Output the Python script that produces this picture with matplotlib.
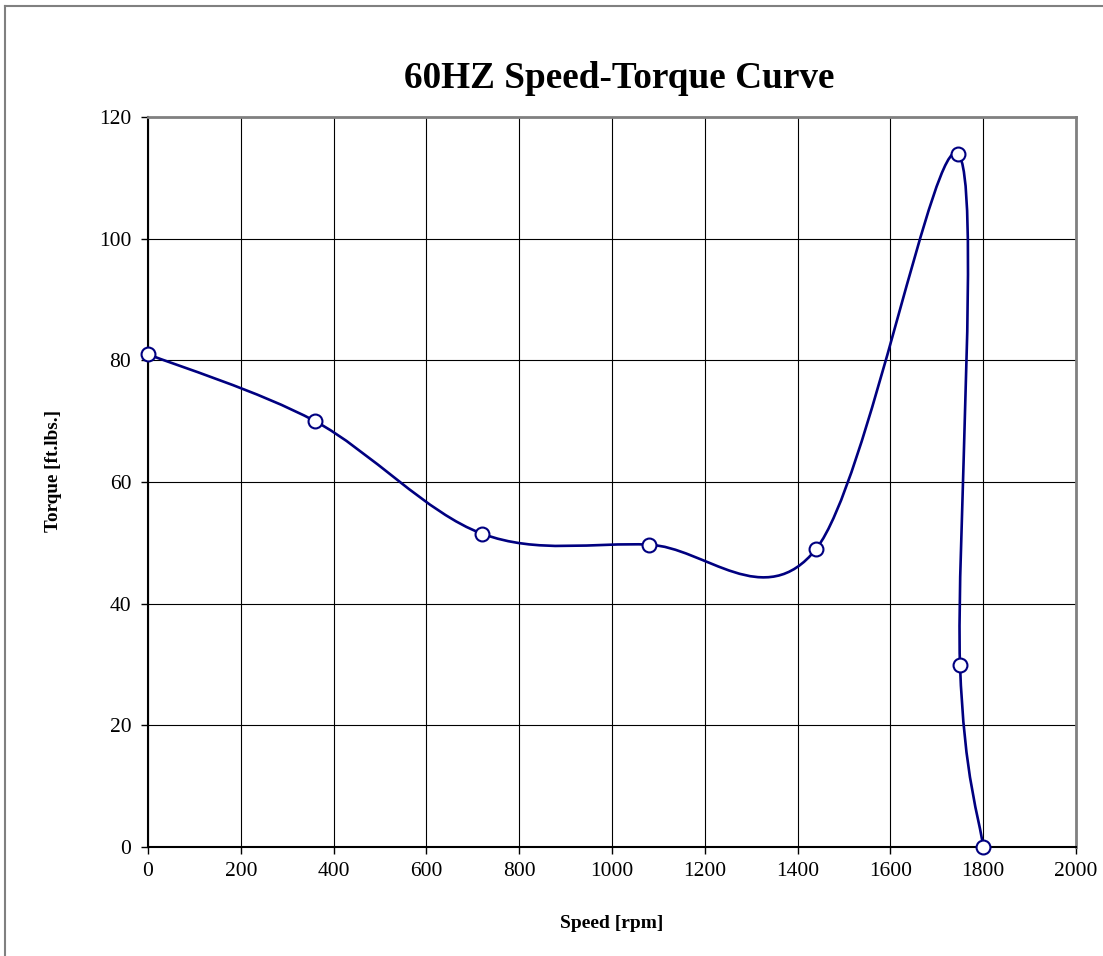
import numpy as np
import matplotlib.pyplot as plt
from matplotlib.path import Path
from matplotlib.patches import PathPatch
from matplotlib.lines import Line2D

# measured points of the 60 Hz speed-torque curve
speed = [0, 360, 720, 1080, 1440, 1745, 1750, 1800]
torque = [81, 70, 51.5, 49.7, 49, 114, 30, 0]

x_ticks = [0, 200, 400, 600, 800, 1000, 1200, 1400, 1600, 1800, 2000]
y_ticks = [0, 20, 40, 60, 80, 100, 120]

plt.rcParams['font.family'] = ['Liberation Serif', 'DejaVu Serif']

fig = plt.figure(figsize=(11.03, 9.56), dpi=100)
ax = fig.add_axes([148 / 1103, 1 - 847 / 956, (1076 - 148) / 1103, (847 - 117) / 956])

# smoothed line like a spreadsheet chart (bezier through points, tension 1/6)
pts = np.column_stack([speed, torque]).astype(float)
ext = np.vstack([pts[0], pts, pts[-1]])
verts = [pts[0]]
codes = [Path.MOVETO]
for i in range(len(pts) - 1):
    p0, p1, p2, p3 = ext[i], ext[i + 1], ext[i + 2], ext[i + 3]
    c1 = p1 + (p2 - p0) / 6
    c2 = p2 - (p3 - p1) / 6
    verts += [c1, c2, p2]
    codes += [Path.CURVE4] * 3
ax.add_patch(PathPatch(Path(verts, codes), fill=False, edgecolor='#000080',
                       lw=1.9, zorder=3))
ax.plot(speed, torque, linestyle='none', marker='o', markersize=10,
        markerfacecolor='white', markeredgecolor='#000080',
        markeredgewidth=1.5, zorder=4, clip_on=False)

ax.set_xlim(0, 2000)
ax.set_ylim(0, 120)
ax.set_xticks(x_ticks)
ax.set_yticks(y_ticks)
ax.tick_params(direction='out', length=5, width=1, labelsize=15.5)
ax.tick_params(axis='y', pad=7)
ax.tick_params(axis='x', pad=6)
ax.grid(True, color='black', lw=0.8)
ax.set_axisbelow(True)
for s in ['top', 'right']:
    ax.spines[s].set_color('#808080')
    ax.spines[s].set_linewidth(2)
for s in ['left', 'bottom']:
    ax.spines[s].set_color('black')
    ax.spines[s].set_linewidth(1.5)

ax.set_title('60HZ Speed-Torque Curve', fontsize=26.8, fontweight='bold', pad=21, x=0.508)
ax.set_xlabel('Speed [rpm]', fontsize=14, fontweight='bold', labelpad=24)
ax.set_ylabel('Torque [ft.lbs.]', fontsize=13.8, fontweight='bold')
ax.yaxis.set_label_coords(-0.093, 0.515)

# outer chart border
fig.add_artist(Line2D([5 / 1103, 5 / 1103], [0, 1 - 6 / 956], color='#808080', lw=1.5))
fig.add_artist(Line2D([5 / 1103, 1], [1 - 6 / 956, 1 - 6 / 956], color='#808080', lw=1.5))

fig.savefig('out.png', dpi=100)
